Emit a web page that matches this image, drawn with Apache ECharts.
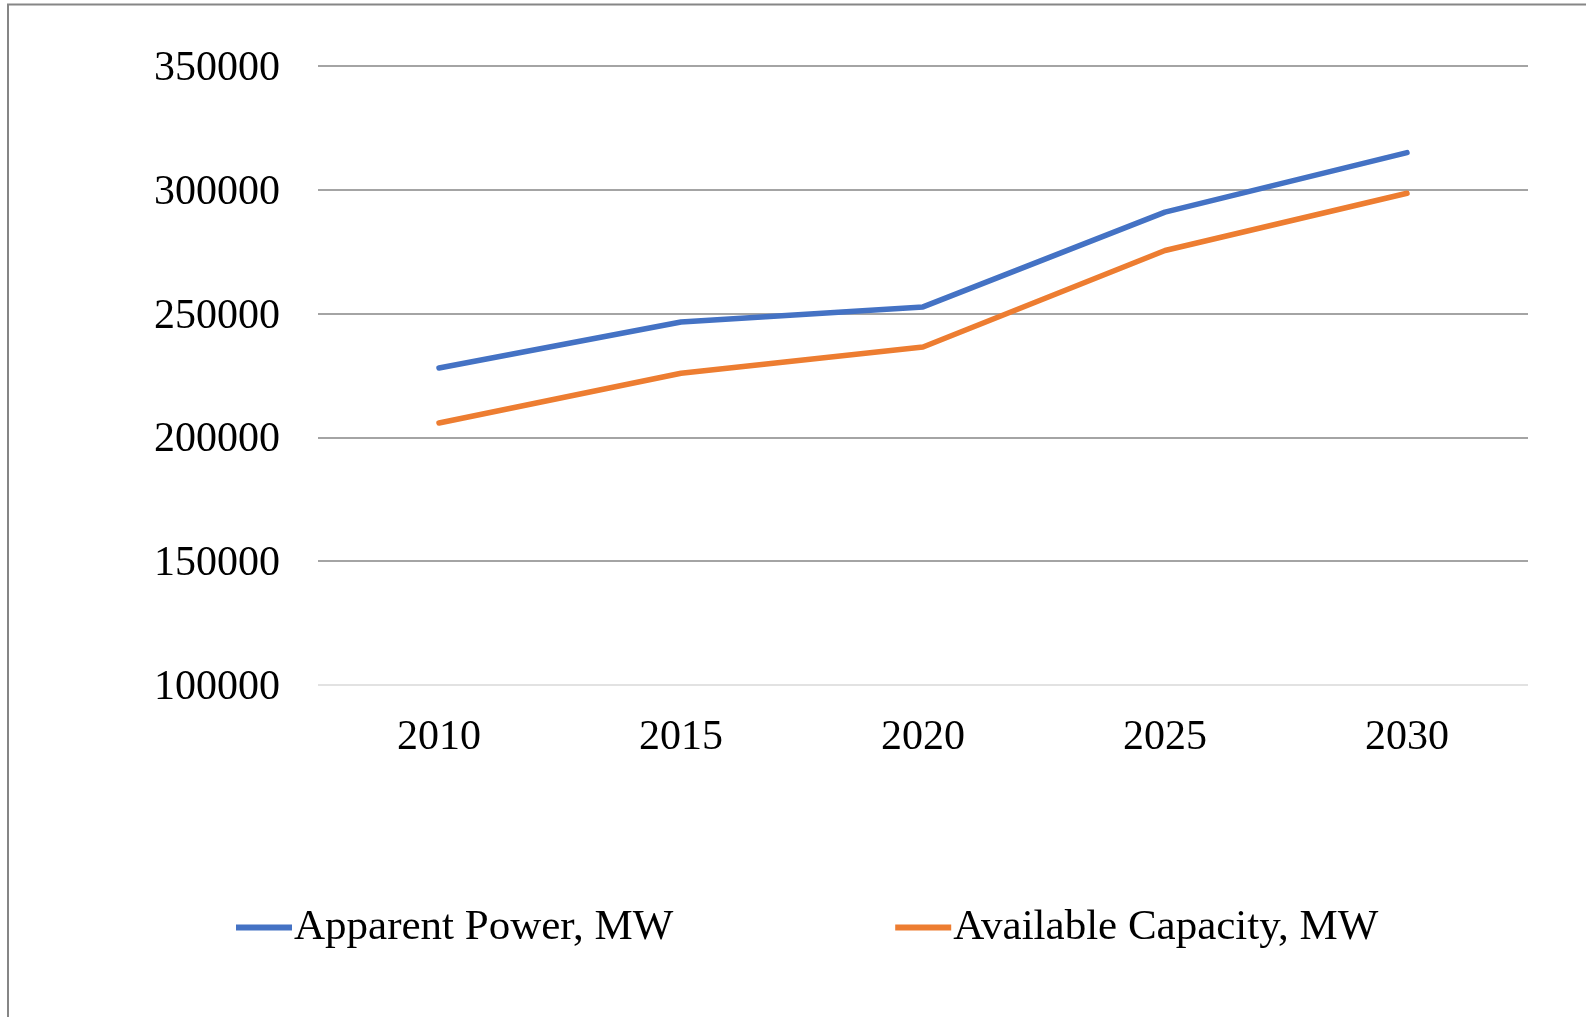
<!DOCTYPE html>
<html>
<head>
<meta charset="utf-8">
<script src="https://cdn.jsdelivr.net/npm/echarts@6/dist/echarts.min.js"></script>
<style>
html,body{margin:0;padding:0;background:#fff;}
#chart{width:1586px;height:1017px;}
</style>
</head>
<body>
<div id="chart"></div>
<script>
const years = ['2010', '2015', '2020', '2025', '2030'];
const apparentPower = [228000, 246600, 252700, 291000, 315000];
const availableCapacity = [205800, 225900, 236500, 275500, 298600];
const seriesNames = ['Apparent Power, MW', 'Available Capacity, MW'];

const chart = echarts.init(document.getElementById('chart'), null, {renderer: 'canvas'});
const font = '"Liberation Serif", "Times New Roman", serif';
chart.setOption({
  animation: false,
  backgroundColor: '#ffffff',
  textStyle: {fontFamily: font},
  graphic: [
    {type: 'line', shape: {x1: 7, y1: 4.5, x2: 1586, y2: 4.5}, style: {stroke: '#868686', lineWidth: 2}},
    {type: 'line', shape: {x1: 8, y1: 4, x2: 8, y2: 1017}, style: {stroke: '#868686', lineWidth: 2}}
  ],
  grid: {left: 318, right: 58, top: 66, bottom: 332, containLabel: false},
  legend: {
    left: 236, top: 906, padding: 0,
    itemWidth: 56, itemHeight: 6, itemGap: 222,
    icon: 'rect',
    textStyle: {fontFamily: font, fontSize: 43, color: '#000', padding: [0, 0, 0, -3]},
    data: seriesNames
  },
  xAxis: {
    type: 'category',
    data: years,
    boundaryGap: true,
    axisLine: {show: false},
    axisTick: {show: false},
    axisLabel: {fontFamily: font, fontSize: 42, color: '#000', margin: 32}
  },
  yAxis: {
    type: 'value',
    min: 100000, max: 350000, interval: 50000,
    axisLine: {show: false},
    axisTick: {show: false},
    axisLabel: {fontFamily: font, fontSize: 42, color: '#000', margin: 38,
      formatter: function (v) { return '{v|' + v + '}'; },
      rich: {v: {fontFamily: font, fontSize: 42, color: '#000', padding: [6, 0, 0, 0]}}},
    splitLine: {show: true, lineStyle: {color: ['#d9d9d9', '#868686', '#868686', '#868686', '#868686', '#868686'], width: 1.6}}
  },
  series: [
    {name: seriesNames[0], type: 'line', data: apparentPower, showSymbol: false, symbol: 'none',
     lineStyle: {color: '#4472C4', width: 5.5, cap: 'round', join: 'round'}, itemStyle: {color: '#4472C4'}},
    {name: seriesNames[1], type: 'line', data: availableCapacity, showSymbol: false, symbol: 'none',
     lineStyle: {color: '#ED7D31', width: 5.5, cap: 'round', join: 'round'}, itemStyle: {color: '#ED7D31'}}
  ]
});
</script>
</body>
</html>
